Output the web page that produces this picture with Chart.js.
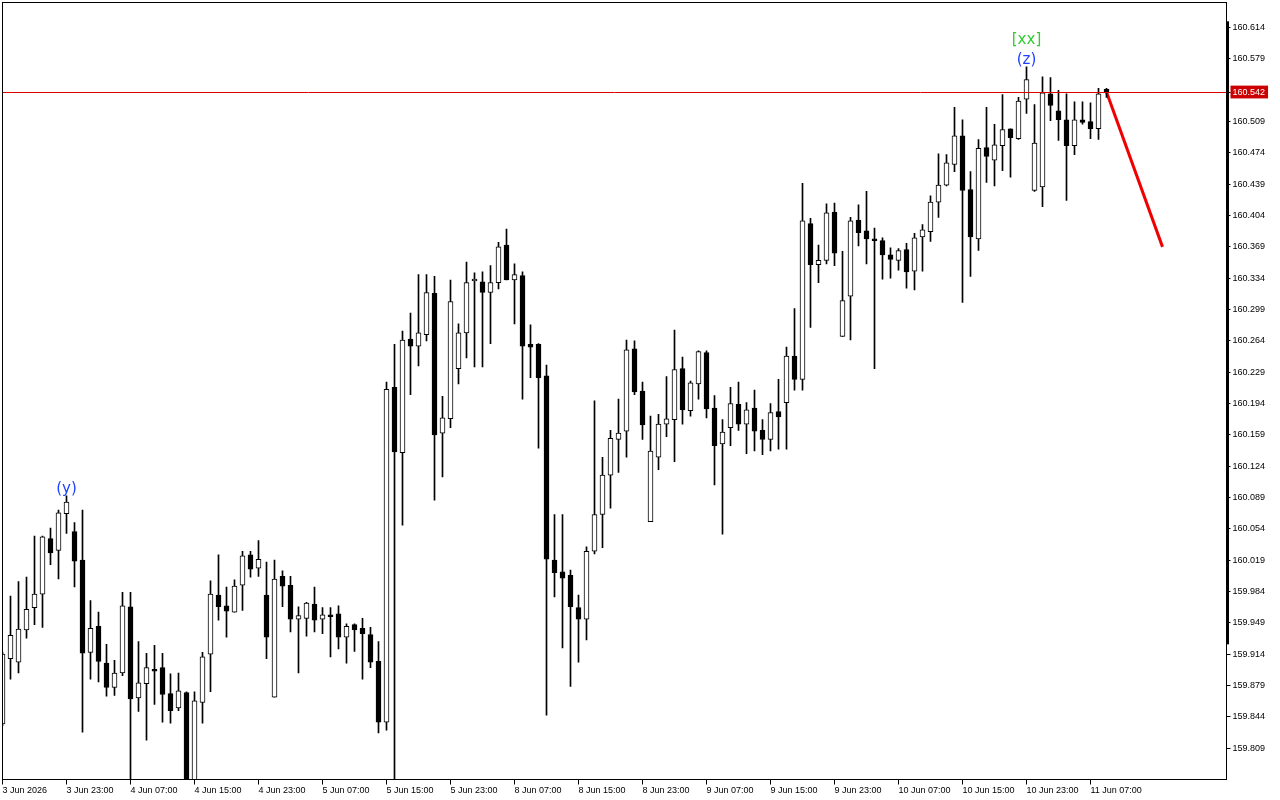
<!DOCTYPE html>
<html>
<head>
<meta charset="utf-8">
<title>H1 candles</title>
<script src="https://cdn.jsdelivr.net/npm/chart.js@4.4.1/dist/chart.umd.min.js"></script>
<style>
  html, body { margin: 0; padding: 0; background: #fff; }
  #wrap { width: 1280px; height: 800px; position: relative; }
</style>
</head>
<body>
<div id="wrap"><canvas id="chart"></canvas></div>
<script>
// hourly candles, 3 Jun 15:00 .. 11 Jun 09:00
const opens = [
  159.836, 159.909, 159.905, 159.941, 159.966, 159.981, 160.043, 160.030, 160.071, 160.051,
  160.019, 159.916, 159.945, 159.904, 159.877, 159.893, 159.967, 159.865, 159.881, 159.897,
  159.899, 159.870, 159.854, 159.871, 159.770, 159.860, 159.914, 159.980, 159.968, 159.961,
  159.991, 160.025, 160.010, 159.980, 159.866, 160.001, 159.991, 159.953, 159.954, 159.970,
  159.953, 159.958, 159.959, 159.933, 159.947, 159.943, 159.936, 159.906, 159.838, 160.212,
  160.139, 160.266, 160.258, 160.271, 160.317, 160.161, 160.177, 160.233, 160.273, 160.331,
  160.330, 160.318, 160.329, 160.371, 160.332, 160.337, 160.260, 160.260, 160.225, 160.019,
  160.006, 160.002, 159.966, 159.953, 160.029, 160.070, 160.114, 160.154, 160.163, 160.255,
  160.208, 160.062, 160.134, 160.171, 160.176, 160.233, 160.186, 160.216, 160.251, 160.189,
  160.149, 160.167, 160.193, 160.171, 160.189, 160.164, 160.154, 160.185, 160.195, 160.247,
  160.221, 160.395, 160.349, 160.354, 160.408, 160.269, 160.314, 160.399, 160.387, 160.378,
  160.376, 160.360, 160.354, 160.366, 160.342, 160.380, 160.386, 160.419, 160.438, 160.461,
  160.493, 160.433, 160.378, 160.480, 160.466, 160.482, 160.501, 160.490, 160.534, 160.432,
  160.436, 160.540, 160.521, 160.511, 160.482, 160.511, 160.509, 160.501, 160.545
]
const highs = [
  159.916, 159.979, 159.995, 160.000, 160.046, 160.046, 160.055, 160.075, 160.091, 160.061,
  160.075, 159.974, 159.961, 159.925, 159.907, 159.983, 159.983, 159.928, 159.915, 159.924,
  159.915, 159.892, 159.893, 159.872, 159.872, 159.916, 159.996, 160.025, 159.989, 159.997,
  160.029, 160.029, 160.041, 160.017, 160.019, 160.007, 160.001, 159.967, 159.972, 159.989,
  159.966, 159.966, 159.968, 159.948, 159.948, 159.954, 159.944, 159.928, 160.218, 160.260,
  160.275, 160.295, 160.338, 160.338, 160.336, 160.202, 160.332, 160.283, 160.352, 160.340,
  160.341, 160.348, 160.374, 160.389, 160.350, 160.341, 160.282, 160.261, 160.237, 160.070,
  160.070, 160.008, 159.980, 160.034, 160.197, 160.134, 160.164, 160.199, 160.265, 160.264,
  160.218, 160.180, 160.182, 160.224, 160.276, 160.246, 160.219, 160.253, 160.253, 160.203,
  160.176, 160.212, 160.218, 160.195, 160.209, 160.176, 160.194, 160.221, 160.257, 160.300,
  160.440, 160.401, 160.371, 160.417, 160.418, 160.364, 160.402, 160.416, 160.431, 160.390,
  160.379, 160.368, 160.367, 160.373, 160.384, 160.394, 160.426, 160.473, 160.472, 160.525,
  160.511, 160.453, 160.489, 160.525, 160.506, 160.539, 160.501, 160.536, 160.570, 160.528,
  160.559, 160.558, 160.544, 160.540, 160.531, 160.531, 160.530, 160.546, 160.546
]
const lows = [
  159.834, 159.886, 159.893, 159.932, 159.947, 159.944, 160.014, 159.998, 160.049, 159.989,
  159.827, 159.886, 159.883, 159.867, 159.868, 159.890, 159.760, 159.850, 159.818, 159.858,
  159.838, 159.837, 159.851, 159.762, 159.762, 159.837, 159.872, 159.952, 159.933, 159.961,
  159.963, 160.000, 160.001, 159.909, 159.866, 159.967, 159.939, 159.893, 159.934, 159.939,
  159.937, 159.911, 159.920, 159.904, 159.917, 159.886, 159.899, 159.826, 159.829, 159.762,
  160.058, 160.204, 160.236, 160.264, 160.086, 160.112, 160.167, 160.216, 160.245, 160.235,
  160.235, 160.261, 160.322, 160.332, 160.283, 160.199, 160.223, 160.144, 159.846, 159.978,
  159.921, 159.878, 159.905, 159.930, 160.026, 160.033, 160.077, 160.117, 160.134, 160.204,
  160.154, 160.062, 160.120, 160.157, 160.129, 160.171, 160.180, 160.199, 160.178, 160.103,
  160.048, 160.147, 160.164, 160.138, 160.141, 160.137, 160.141, 160.143, 160.143, 160.209,
  160.209, 160.279, 160.329, 160.350, 160.348, 160.269, 160.265, 160.370, 160.350, 160.233,
  160.333, 160.334, 160.343, 160.323, 160.321, 160.342, 160.375, 160.402, 160.437, 160.453,
  160.307, 160.336, 160.365, 160.441, 160.437, 160.454, 160.447, 160.489, 160.518, 160.431,
  160.414, 160.510, 160.488, 160.421, 160.472, 160.506, 160.490, 160.489, 160.536
]
const closes = [
  159.914, 159.935, 159.942, 159.964, 159.981, 160.045, 160.027, 160.072, 160.084, 160.018,
  159.915, 159.943, 159.906, 159.877, 159.893, 159.968, 159.864, 159.882, 159.899, 159.895,
  159.869, 159.851, 159.873, 159.770, 159.862, 159.911, 159.981, 159.967, 159.962, 159.990,
  160.024, 160.009, 160.020, 159.933, 159.998, 159.990, 159.953, 159.957, 159.971, 159.952,
  159.958, 159.956, 159.933, 159.945, 159.941, 159.937, 159.905, 159.838, 160.210, 160.140,
  160.265, 160.258, 160.273, 160.318, 160.159, 160.178, 160.308, 160.273, 160.329, 160.333,
  160.318, 160.329, 160.369, 160.332, 160.338, 160.258, 160.257, 160.223, 160.020, 160.005,
  159.999, 159.967, 159.953, 160.029, 160.070, 160.114, 160.155, 160.161, 160.254, 160.207,
  160.170, 160.141, 160.171, 160.177, 160.232, 160.187, 160.217, 160.252, 160.188, 160.147,
  160.162, 160.194, 160.171, 160.187, 160.163, 160.154, 160.184, 160.179, 160.247, 160.221,
  160.398, 160.349, 160.354, 160.407, 160.362, 160.309, 160.398, 160.385, 160.378, 160.376,
  160.360, 160.355, 160.365, 160.341, 160.379, 160.388, 160.419, 160.438, 160.463, 160.493,
  160.432, 160.380, 160.479, 160.470, 160.483, 160.500, 160.491, 160.532, 160.556, 160.485,
  160.541, 160.527, 160.511, 160.482, 160.511, 160.508, 160.501, 160.540, 160.542
]

// one label every 8 bars
const tickLabels = [
  '3 Jun 2026', '3 Jun 23:00', '4 Jun 07:00', '4 Jun 15:00', '4 Jun 23:00', '5 Jun 07:00',
  '5 Jun 15:00', '5 Jun 23:00', '8 Jun 07:00', '8 Jun 15:00', '8 Jun 23:00', '9 Jun 07:00',
  '9 Jun 15:00', '9 Jun 23:00', '10 Jun 07:00', '10 Jun 15:00', '10 Jun 23:00', '11 Jun 07:00'
]
const tickEvery = 8
const slotCount = 154   // bars + empty space on the right

const priceTicks = [
  160.614, 160.579, 160.509, 160.474, 160.439, 160.404, 160.369, 160.334, 160.299, 160.264,
  160.229, 160.194, 160.159, 160.124, 160.089, 160.054, 160.019, 159.984, 159.949, 159.914,
  159.879, 159.844, 159.809
]
const priceMin = 159.774
const priceMax = 160.642
const lastPrice = 160.542

// projected move drawn in red
const forecastIdx = [138, 145]
const forecastVals = [160.542, 160.369]

// wave marks
const waveIdx = [8, 128]
const waveText = ['(y)', '(z)']
const degreeIdx = [128]
const degreeText = ['[xx]']

// the thick bar on the price scale
const scaleBar = [159.925, 160.621]

const labels = []
for (let i = 0; i < slotCount; i++) {
  const k = i / tickEvery
  labels.push(i % tickEvery === 0 && k < tickLabels.length ? tickLabels[k] : '')
}

const bodies = opens.map((o, i) => [o, closes[i]])
const wicks = lows.map((l, i) => [l, highs[i]])
const bodyColors = opens.map((o, i) => closes[i] >= o ? '#ffffff' : '#000000')

const forecast = new Array(slotCount).fill(null)
forecastIdx.forEach((idx, k) => { forecast[idx] = forecastVals[k] })

const overlay = {
  id: 'overlay',
  beforeDraw(chart) {
    const ctx = chart.ctx
    ctx.save()
    ctx.fillStyle = '#ffffff'
    ctx.fillRect(0, 0, chart.width, chart.height)
    ctx.restore()
  },
  afterDatasetsDraw(chart) {
    const { ctx, chartArea: a, scales: { x, y } } = chart
    ctx.save()
    // last price line
    const py = Math.round(y.getPixelForValue(lastPrice)) + 0.5
    ctx.strokeStyle = '#e00000'
    ctx.lineWidth = 1
    ctx.beginPath()
    ctx.moveTo(a.left, py)
    ctx.lineTo(a.right, py)
    ctx.stroke()

    // wave labels above the highs
    ctx.font = '15px "DejaVu Sans"'
    ctx.textAlign = 'center'
    ctx.textBaseline = 'alphabetic'
    waveIdx.forEach((idx, k) => {
      const px = x.getPixelForValue(idx)
      const hy = y.getPixelForValue(highs[idx])
      ctx.fillStyle = '#2040ff'
      ctx.fillText(waveText[k], px, hy - 3)
    })
    degreeIdx.forEach((idx, k) => {
      const px = x.getPixelForValue(idx)
      const hy = y.getPixelForValue(highs[idx])
      ctx.fillStyle = '#33cc33'
      ctx.fillText(degreeText[k], px, hy - 23)
    })
    ctx.restore()
  },
  afterDraw(chart) {
    const { ctx, chartArea: a, scales: { y } } = chart
    ctx.save()
    ctx.strokeStyle = '#000000'
    ctx.lineWidth = 1
    ctx.strokeRect(a.left, a.top, a.right - a.left, a.bottom - a.top)
    const t = y.getPixelForValue(scaleBar[1])
    const b = y.getPixelForValue(scaleBar[0])
    ctx.fillStyle = '#000000'
    ctx.fillRect(a.right - 0.5, t, 3, b - t)
    ctx.restore()
  }
}

new Chart(document.getElementById('chart'), {
  type: 'bar',
  data: {
    labels: labels,
    datasets: [
      {
        label: 'body',
        data: bodies,
        backgroundColor: bodyColors,
        borderColor: '#000000',
        borderWidth: 1,
        borderSkipped: false,
        barThickness: 5,
        grouped: false,
        clip: 0
      },
      {
        label: 'wick',
        data: wicks,
        backgroundColor: '#000000',
        borderWidth: 0,
        barThickness: 1,
        grouped: false,
        clip: 0
      },
      {
        type: 'line',
        label: 'forecast',
        data: forecast,
        spanGaps: true,
        borderColor: '#f00000',
        borderWidth: 3,
        pointRadius: 0,
        fill: false,
        clip: 0
      }
    ]
  },
  options: {
    responsive: true,
    maintainAspectRatio: false,
    animation: false,
    events: [],
    layout: { padding: { left: 2.5, top: 2.5, right: 0, bottom: 0 } },
    plugins: { legend: { display: false }, tooltip: { enabled: false } },
    scales: {
      x: {
        type: 'category',
        offset: false,
        grid: { offset: false, drawOnChartArea: false, drawTicks: true, tickLength: 5, color: '#000000' },
        border: { display: true, color: '#000000' },
        afterBuildTicks: (scale) => {
          scale.ticks = scale.ticks.filter(t => t.value % tickEvery === 0 && t.value / tickEvery < tickLabels.length)
        },
        afterFit: (scale) => {
          scale.height = 20.5
          scale.paddingLeft = 0
          scale.paddingRight = 0
        },
        ticks: {
          autoSkip: false,
          maxRotation: 0,
          minRotation: 0,
          align: 'start',
          padding: 1,
          color: '#000000',
          font: { family: '"Liberation Sans", Arial, sans-serif', size: 9 }
        }
      },
      y: {
        position: 'right',
        min: priceMin,
        max: priceMax,
        grid: { drawOnChartArea: false, drawTicks: true, tickLength: 4, color: '#000000' },
        border: { display: true, color: '#000000' },
        afterBuildTicks: (scale) => {
          scale.ticks = priceTicks.concat([lastPrice]).map(v => ({ value: v }))
        },
        afterFit: (scale) => {
          scale.width = 53.5
          scale.paddingTop = 0
          scale.paddingBottom = 0
        },
        ticks: {
          padding: 2,
          color: (c) => c.tick && c.tick.value === lastPrice ? '#ffffff' : '#000000',
          showLabelBackdrop: (c) => !!(c.tick && c.tick.value === lastPrice),
          backdropColor: '#cc0000',
          backdropPadding: { top: 1, bottom: 1, left: 2, right: 3 },
          font: { family: '"Liberation Sans", Arial, sans-serif', size: 9 },
          callback: (v) => Number(v).toFixed(3)
        }
      }
    }
  },
  plugins: [overlay]
})
</script>
</body>
</html>
